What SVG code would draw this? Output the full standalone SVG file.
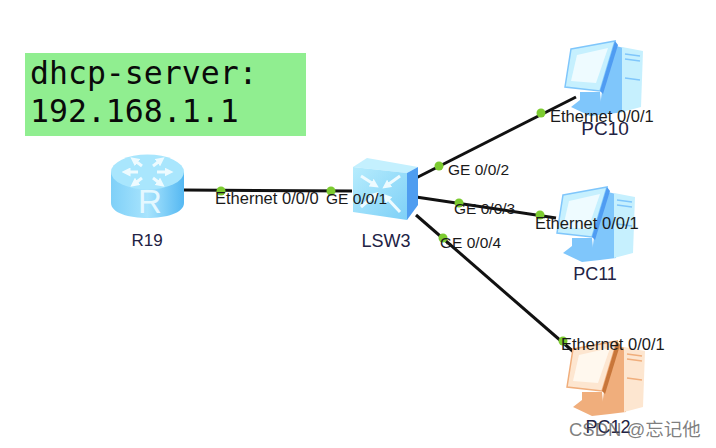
<svg xmlns="http://www.w3.org/2000/svg" width="716" height="448" viewBox="0 0 716 448">
<defs>
<linearGradient id="rb" x1="0" y1="0" x2="1" y2="0"><stop offset="0" stop-color="#7fd0f8"/><stop offset="0.5" stop-color="#a8e4fd"/><stop offset="1" stop-color="#55b8f2"/></linearGradient>
<linearGradient id="sw" x1="0" y1="0" x2="1" y2="1"><stop offset="0" stop-color="#b6ecfd"/><stop offset="1" stop-color="#7ed0f7"/></linearGradient>
<marker id="ah" viewBox="0 0 6 6" refX="3" refY="3" markerWidth="3" markerHeight="3" orient="auto"><path d="M0 0 L6 3 L0 6 Z" fill="#eefbff"/></marker>
<g id="pcshape">
<path d="M44 8 L52 6 L60 8 L60 72 L44 74 L36 66 Z" fill="var(--mid)"/>
<path d="M58 7 L79 11 L77 67 L58 72 Z" fill="var(--light)"/>
<path d="M61 14 L76 16 M61 19 L76 21 M61 38 L76 40" stroke="var(--mid)" stroke-width="1.500" fill="none"/>
<path d="M16 52 L36 52 L37 62 L44 68 L44 74 L26 76 L7 67 L16 60 Z" fill="var(--mid)"/>
<path d="M7 9 L51 1 L36 51 L1 47 Z" fill="var(--light)" stroke="var(--mid)" stroke-width="1.500"/>
<path d="M13 15 L44 8 L32 43 L7 41 Z" fill="var(--screen)"/>
<path d="M51 1 L54 5 L39 54 L36 51 Z" fill="var(--dark)"/>
</g>
</defs>
<style>
.lbl{font-family:"Liberation Sans",Arial,sans-serif;fill:#1a1a1a}
.eth{font-size:16.500px}
.ge{font-size:15.500px}
.name{font-family:"Liberation Sans",Arial,sans-serif;font-size:18px;fill:#222244}
.code{font-family:"DejaVu Sans Mono",monospace;font-size:31.500px;fill:#0a0a0a}
.wm{font-family:"Liberation Sans","Noto Sans CJK SC",sans-serif;font-size:18.500px;fill:#555;fill-opacity:.75}
.link{stroke:#111;stroke-width:3;fill:none}
.dot{fill:#7ccb30}
.arr{stroke:#eefbff;stroke-width:3;fill:none;marker-end:url(#ah)}
</style>
<rect id="note-bg" x="25" y="53" width="281" height="83" fill="#90ee90"/>
<g id="note">
<text class="code" x="30" y="84">dhcp-server:</text>
<text class="code" x="30" y="122">192.168.1.1</text>
</g>
<g id="connectors">
<path class="link" d="M184 190 L352 191"/>
<path class="link" d="M416 178 L576 97"/>
<path class="link" d="M416 197 L556 218"/>
<path class="link" d="M416 215 L576 354"/>
<circle class="dot" cx="221" cy="191" r="4.500"/>
<circle class="dot" cx="331" cy="191" r="4.500"/>
<circle class="dot" cx="439" cy="166" r="4.500"/>
<circle class="dot" cx="541" cy="113" r="4.500"/>
<circle class="dot" cx="459" cy="203" r="4.500"/>
<circle class="dot" cx="540" cy="215" r="4.500"/>
<circle class="dot" cx="443" cy="238" r="4.500"/>
<circle class="dot" cx="563" cy="341" r="4.500"/>
</g>
<g id="R19">
<path d="M111 172 L111 203 C111 223 184 223 184 203 L184 172 Z" fill="url(#rb)"/>
<ellipse cx="147.500" cy="172" rx="36.500" ry="17.500" fill="#a9e6fd"/>
<path class="arr" d="M138 172 L126 172"/>
<path class="arr" d="M157 172 L169 172"/>
<path class="arr" d="M142 166 L134 160"/>
<path class="arr" d="M153 166 L161 160"/>
<path class="arr" d="M142 178 L134 184"/>
<path class="arr" d="M153 178 L161 184"/>
<text x="150" y="213" font-family="Liberation Sans,sans-serif" font-size="33" fill="#e4f8ff" text-anchor="middle">R</text>
<text class="name" x="147" y="246" text-anchor="middle" style="font-size:17px">R19</text>
</g>
<g id="LSW3">
<path d="M353 167 L367 158 L418 167 L407 173 Z" fill="#c4f0fe"/>
<path d="M353 167 L407 173 L407 220 L353 212 Z" fill="url(#sw)"/>
<path d="M407 173 L418 167 L418 205 L407 220 Z" fill="#4f9df0"/>
<path class="arr" d="M361 176 L375 185"/>
<path class="arr" d="M361 207 L375 195"/>
<path class="arr" d="M400 176 L386 186"/>
<path class="arr" d="M400 212 L386 197"/>
<text class="name" x="386" y="247" text-anchor="middle">LSW3</text>
</g>
<g id="PC10" style="--light:#c6f0fe;--mid:#7fc6fb;--dark:#4f9cf2;--screen:#eefbff">
<use href="#pcshape" x="564" y="40"/>
<text class="name" x="605" y="135" text-anchor="middle" style="font-size:19px">PC10</text>
</g>
<g id="PC11" style="--light:#c6f0fe;--mid:#7fc6fb;--dark:#4f9cf2;--screen:#eefbff">
<use href="#pcshape" x="556" y="186"/>
<text class="name" x="595" y="280" text-anchor="middle">PC11</text>
</g>
<g id="PC12" style="--light:#fde6d0;--mid:#f0ae7c;--dark:#c8763a;--screen:#fff8ee">
<use href="#pcshape" x="566" y="340"/>
<text class="name" x="608" y="433" text-anchor="middle">PC12</text>
</g>
<g id="labels">
<text class="lbl eth" x="215" y="204">Ethernet 0/0/0</text>
<text class="lbl ge" x="326" y="204">GE 0/0/1</text>
<text class="lbl ge" x="448" y="175">GE 0/0/2</text>
<text class="lbl ge" x="454" y="214">GE 0/0/3</text>
<text class="lbl ge" x="440" y="248">GE 0/0/4</text>
<text class="lbl eth" x="550" y="122">Ethernet 0/0/1</text>
<text class="lbl eth" x="535" y="229">Ethernet 0/0/1</text>
<text class="lbl eth" x="561" y="350">Ethernet 0/0/1</text>
</g>
<text class="wm" x="569" y="436">CSDN @忘记他</text>
</svg>
